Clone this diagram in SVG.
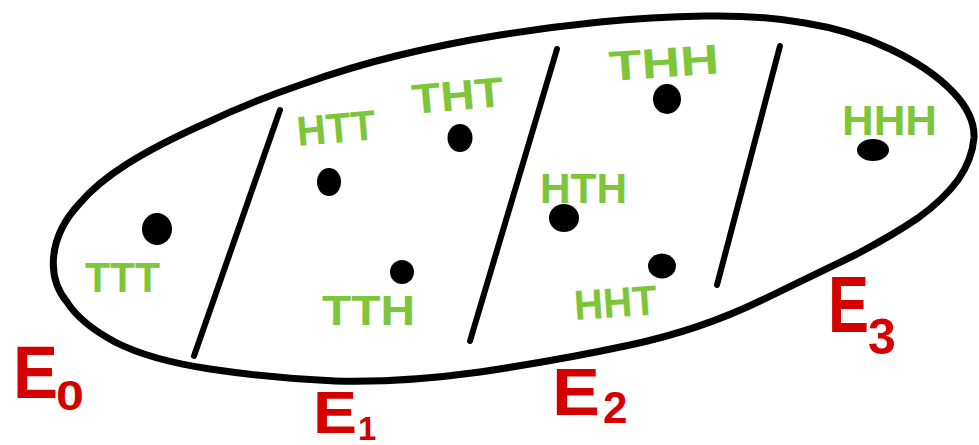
<svg xmlns="http://www.w3.org/2000/svg" width="979" height="445" viewBox="0 0 979 445">
<style>
.line{fill:none;stroke:#000;stroke-width:6;stroke-linecap:round;stroke-linejoin:round}
.outline{stroke-width:7}
.dot{fill:#000}
.out{fill:#7dc63a;font-family:"Liberation Sans",Arial,sans-serif;font-weight:bold;font-size:42px}
.ev{fill:#d40000;font-family:"Liberation Sans",Arial,sans-serif;font-weight:bold}
</style>
<rect width="979" height="445" fill="#fff"/>
<g id="sample-space">
<path class="line outline" d="M80 203 Q97 183 127 164 Q157 145 204 124 Q250 102 300 85 Q350 67 400 55 Q450 43 500 35 Q550 27 600 22 Q650 17 705 16 Q760 15 805 23 Q850 30 890 49 Q930 68 953 92 Q975 115 974 138 Q972 160 958 180 Q943 200 918 218 Q893 235 857 254 Q820 272 760 301 Q700 330 630 345 Q560 360 480 372 Q400 383 335 381 Q270 378 210 369 Q150 360 115 342 Q80 323 67 302 C47 278 47 238 80 203 Z"/>
</g>
<g id="dividers">
<line class="line" x1="280" y1="110" x2="194" y2="356"/>
<line class="line" x1="557" y1="49" x2="470" y2="341"/>
<line class="line" x1="780" y1="46" x2="717" y2="285"/>
</g>
<g id="TTT"><ellipse class="dot" cx="157" cy="229" rx="15" ry="16"/><text class="out" x="85" y="292" textLength="75" lengthAdjust="spacingAndGlyphs">TTT</text></g>
<g id="HTT"><ellipse class="dot" cx="329" cy="182" rx="12" ry="14"/><text class="out" x="298" y="146" textLength="79" lengthAdjust="spacingAndGlyphs" transform="rotate(-5 298 146)">HTT</text></g>
<g id="THT"><ellipse class="dot" cx="460" cy="138" rx="12.5" ry="14"/><text class="out" x="413" y="114" textLength="92" lengthAdjust="spacingAndGlyphs" transform="rotate(-5 413 114)">THT</text></g>
<g id="TTH"><ellipse class="dot" cx="402" cy="272" rx="12" ry="12"/><text class="out" x="322" y="325" textLength="93" lengthAdjust="spacingAndGlyphs">TTH</text></g>
<g id="THH"><ellipse class="dot" cx="667" cy="99" rx="14" ry="15"/><text class="out" x="610" y="81" textLength="110" lengthAdjust="spacingAndGlyphs" transform="rotate(-4 610 81)">THH</text></g>
<g id="HTH"><ellipse class="dot" cx="564" cy="218" rx="15" ry="14"/><text class="out" x="540" y="203" textLength="87" lengthAdjust="spacingAndGlyphs">HTH</text></g>
<g id="HHT"><ellipse class="dot" cx="662" cy="266" rx="14" ry="12.5"/><text class="out" x="575" y="320" textLength="83" lengthAdjust="spacingAndGlyphs" transform="rotate(-4 575 320)">HHT</text></g>
<g id="HHH"><ellipse class="dot" cx="873" cy="150" rx="16" ry="11"/><text class="out" x="842" y="135" textLength="95" lengthAdjust="spacingAndGlyphs">HHH</text></g>
<g id="E0"><text class="ev" x="13" y="398" font-size="74" textLength="45" lengthAdjust="spacingAndGlyphs">E</text><text class="ev" x="56" y="410" font-size="42" textLength="28" lengthAdjust="spacingAndGlyphs">0</text></g>
<g id="E1"><text class="ev" x="313" y="433" font-size="60" textLength="44" lengthAdjust="spacingAndGlyphs">E</text><text class="ev" x="358" y="440" font-size="33">1</text></g>
<g id="E2"><text class="ev" x="552" y="415" font-size="66" textLength="48" lengthAdjust="spacingAndGlyphs">E</text><text class="ev" x="603" y="423" font-size="44">2</text></g>
<g id="E3"><text class="ev" x="828" y="332" font-size="80" textLength="41" lengthAdjust="spacingAndGlyphs">E</text><text class="ev" x="868" y="354" font-size="50">3</text></g>
</svg>
